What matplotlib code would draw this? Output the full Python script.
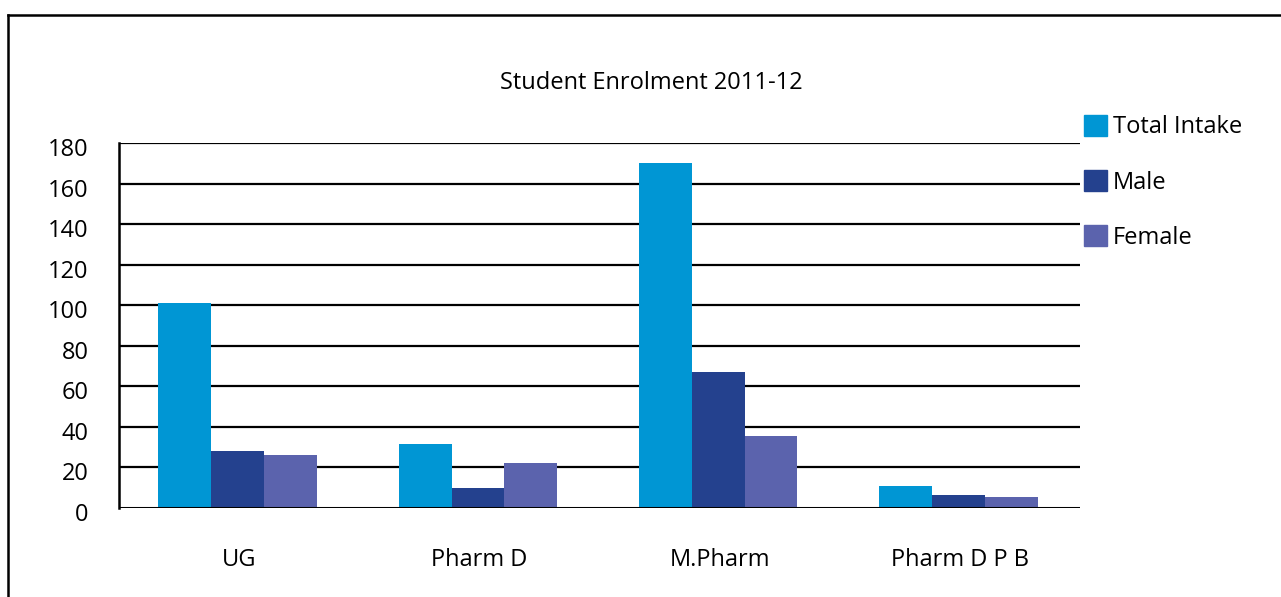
import matplotlib
matplotlib.use("Agg")
import matplotlib.pyplot as plt
import matplotlib.transforms as mtransforms
import numpy as np
from matplotlib.patches import Patch
from matplotlib.lines import Line2D

categories = ["UG", "Pharm D", "M.Pharm", "Pharm D P B"]
series_names = ["Total Intake", "Male", "Female"]
total_intake = [101, 31.5, 170, 11]
male = [28, 10, 67, 6.5]
female = [26, 22, 35.5, 5.5]
yticks = [0, 20, 40, 60, 80, 100, 120, 140, 160, 180]
title = "Student Enrolment 2011-12"

colors = ["#0096D4", "#24418E", "#5B63AD"]

plt.rcParams['font.family'] = ['Open Sans', 'DejaVu Sans']
FS = 17

W, H = 1281, 597
fig = plt.figure(figsize=(W/100, H/100), dpi=100)
ax = fig.add_axes([119/W, 1-508/H, (1080-119)/W, (508-143)/H])

x = np.arange(len(categories))
bw = 0.22
for i, (vals, c) in enumerate(zip([total_intake, male, female], colors)):
    ax.bar(x + (i-1)*bw - 0.006, vals, width=bw, color=c, zorder=3, label=series_names[i])

ax.set_xlim(-0.5, len(categories)-0.5)
ax.set_ylim(0, 180)
ax.set_yticks(yticks)
ax.set_yticklabels([str(v) for v in yticks], fontsize=FS)
ax.set_xticks(x)
ax.set_xticklabels(categories, fontsize=FS)
ax.tick_params(axis='both', length=0)
ax.tick_params(axis='y', pad=22)
ax.tick_params(axis='x', pad=29)
offset = mtransforms.ScaledTranslation(0, -4/100, fig.dpi_scale_trans)
for lbl in ax.get_yticklabels():
    lbl.set_transform(lbl.get_transform() + offset)
for v in yticks[1:]:
    ax.axhline(v, color='black', lw=1.6, zorder=2)
ax.axhline(0, color='black', lw=2.2, zorder=4)
for s in ['top', 'right', 'bottom']:
    ax.spines[s].set_visible(False)
ax.spines['left'].set_linewidth(1.8)
ax.spines['left'].set_color('black')

fig.text(651/W, 1-83/H, title, ha='center', va='center', fontsize=FS)

handles = [Patch(color=c) for c in colors]
fig.legend(handles, series_names, loc='upper left', bbox_to_anchor=(1084/W, 1-115/H),
           frameon=False, fontsize=FS, handlelength=0.97, handleheight=0.97,
           labelspacing=1.3, handletextpad=0.25, borderaxespad=0, borderpad=0)

# outer frame (extends beyond the image on right/bottom)
fig.add_artist(Line2D([8/W, 1.0], [1-15/H, 1-15/H], transform=fig.transFigure, color='black', lw=1.8))
fig.add_artist(Line2D([8/W, 8/W], [0, 1-15/H], transform=fig.transFigure, color='black', lw=1.8))

fig.savefig("out.png", dpi=100, facecolor='white')
